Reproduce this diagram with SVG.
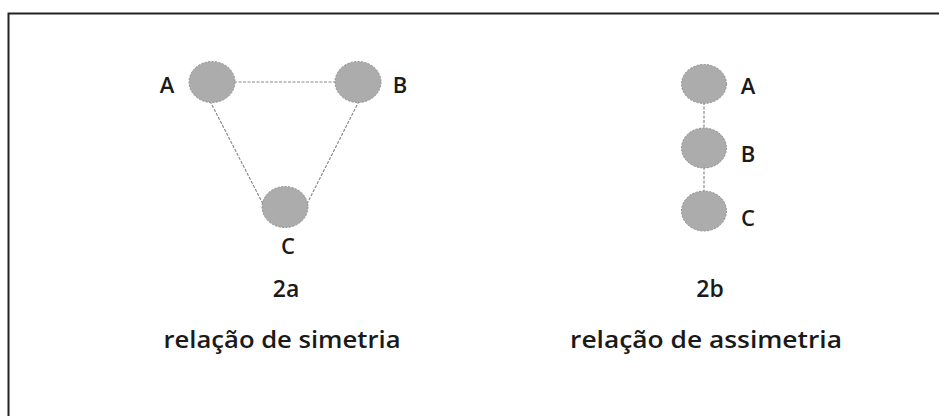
<svg xmlns="http://www.w3.org/2000/svg" width="939" height="416" viewBox="0 0 939 416">
<style>
.node{fill:#acacac;stroke:#8e8e8e;stroke-width:1;stroke-dasharray:2 1.5}
.lbl{font-family:"Open Sans","DejaVu Sans",sans-serif;font-size:22px;font-weight:600;fill:#1a1a1a;text-anchor:middle}
.cap{font-family:"Open Sans","DejaVu Sans",sans-serif;font-size:23px;font-weight:600;fill:#1a1a1a;text-anchor:middle}
.edge{stroke:#8a8a8a;stroke-width:1.2;fill:none;stroke-dasharray:3 1.5}
</style>
<rect width="939" height="416" fill="#ffffff"/>
<path d="M8.5 416 V13.5 H939" fill="none" stroke="#222" stroke-width="2"/>
<g id="connectors">
<line class="edge" x1="234" y1="82" x2="335" y2="82"/>
<line class="edge" x1="210" y1="101" x2="263" y2="204"/>
<line class="edge" x1="359" y1="101" x2="307" y2="204"/>
<line class="edge" x1="704" y1="102" x2="704" y2="129"/>
<line class="edge" x1="704" y1="167" x2="704" y2="192"/>
</g>
<g id="a1"><ellipse class="node" cx="212" cy="82" rx="23" ry="20.5"/><text class="lbl" x="167" y="93">A</text></g>
<g id="b1"><ellipse class="node" cx="358" cy="82" rx="23" ry="20.5"/><text class="lbl" x="400" y="93">B</text></g>
<g id="c1"><ellipse class="node" cx="285" cy="207" rx="23" ry="20.5"/><text class="lbl" x="288" y="254">C</text></g>
<g id="a2"><ellipse class="node" cx="704" cy="84" rx="22.5" ry="19.5"/><text class="lbl" x="748" y="94">A</text></g>
<g id="b2"><ellipse class="node" cx="704" cy="148" rx="22.5" ry="20"/><text class="lbl" x="748" y="162">B</text></g>
<g id="c2"><ellipse class="node" cx="704" cy="211" rx="22.5" ry="20"/><text class="lbl" x="748" y="226">C</text></g>
<text class="cap" x="286" y="297">2a</text>
<text class="cap" x="710" y="297">2b</text>
<text class="cap" x="282" y="348" textLength="237" lengthAdjust="spacingAndGlyphs">relação de simetria</text>
<text class="cap" x="706" y="348" textLength="272" lengthAdjust="spacingAndGlyphs">relação de assimetria</text>
</svg>
